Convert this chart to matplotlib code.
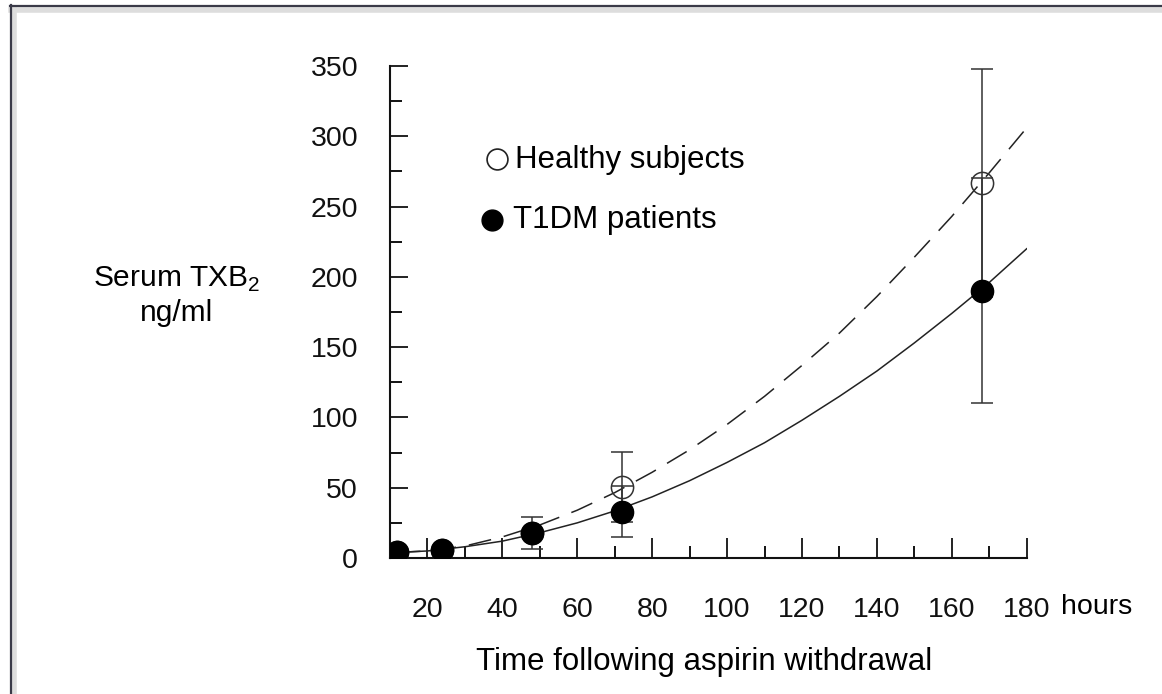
import matplotlib.pyplot as plt
from matplotlib.lines import Line2D
from matplotlib.ticker import MultipleLocator

plt.rcParams['font.family'] = ['Liberation Sans', 'DejaVu Sans']
plt.rcParams['mathtext.fontset'] = 'custom'
plt.rcParams['mathtext.rm'] = 'Liberation Sans'

# measured points (hours after aspirin withdrawal)
hours = [12, 24, 48, 72, 168]
healthy = [4, 6, 18, 50.7, 267]
healthy_err = [0, 0, 0, 24.8, 81]
t1dm = [4, 5.7, 18, 33, 190]
t1dm_err = [0, 0, 11.5, 18, 80]

# fitted curves
fit_hours = [12, 20, 30, 40, 50, 60, 70, 80, 90, 100, 110, 120, 130, 140, 150, 160, 170, 180]
healthy_fit = [4, 5, 8.5, 15, 23.5, 34, 46.5, 61, 77, 95, 115, 137, 160, 186, 214, 243, 274, 306]
t1dm_fit = [4, 5, 8, 12, 18, 25, 33.5, 43.5, 55, 68, 82, 98, 115, 133, 153, 174, 196, 220]

x_labels = ['20', '40', '60', '80', '100', '120', '140', '160', '180']

W, H = 1162, 694
fig = plt.figure(figsize=(W / 100, H / 100), dpi=100)
ax = fig.add_axes([390 / W, 1 - 558 / H, (1026.7 - 390) / W, (558 - 66) / H])

ax.plot(fit_hours, healthy_fit, color='#222222', lw=1.1, linestyle=(0, (15, 8.5)), zorder=2)
ax.plot(fit_hours, t1dm_fit, color='#222222', lw=1.1, zorder=2,
        solid_joinstyle='round')

for series, err in [(healthy, healthy_err), (t1dm, t1dm_err)]:
    idx = [i for i, e in enumerate(err) if e > 0]
    ax.errorbar([hours[i] for i in idx], [series[i] for i in idx],
                yerr=[err[i] for i in idx], fmt='none', ecolor='#333333',
                elinewidth=1.1, capsize=8, capthick=1.1, zorder=3)

ax.plot(hours, healthy, 'o', ms=16, mfc='none', mec='#333333', mew=1.1, zorder=4)
ax.plot(hours, t1dm, 'o', ms=16, mfc='black', mec='black', zorder=5)

ax.set_xlim(10, 180)
ax.set_ylim(0, 350)
ax.set_xticks(range(20, 181, 20), x_labels)
ax.set_xticks(range(30, 180, 20), minor=True)
ax.yaxis.set_major_locator(MultipleLocator(50))
ax.set_yticks(range(25, 350, 50), minor=True)

for s in ['top', 'right']:
    ax.spines[s].set_visible(False)
for s in ['left', 'bottom']:
    ax.spines[s].set_linewidth(1.5)
    ax.spines[s].set_color('#111111')

ax.tick_params(axis='x', which='major', direction='in', length=14.4, width=1.3,
               pad=28, labelsize=20.5, colors='#111111')
ax.tick_params(axis='x', which='minor', direction='in', length=8.6, width=1.3)
ax.tick_params(axis='y', which='major', direction='in', length=13, width=1.3,
               pad=23, labelsize=20.5, colors='#111111')
ax.tick_params(axis='y', which='minor', direction='in', length=8.6, width=1.3)

fig.text(1061 / W, 1 - 607 / H, 'hours', fontsize=20.5, va='center', ha='left')
fig.text(704 / W, 1 - 662 / H, 'Time following aspirin withdrawal', fontsize=22.5,
         va='center', ha='center')
fig.text(177 / W, 1 - 279 / H, r'Serum TXB$_{\mathrm{2}}$', fontsize=21.5,
         va='center', ha='center')
fig.text(177 / W, 1 - 313 / H, 'ng/ml', fontsize=21.5, va='center', ha='center')

# legend
fig.add_artist(Line2D([497 / W], [1 - 159 / H], marker='o', ms=15, mfc='none',
                      mec='#222222', mew=1.2, transform=fig.transFigure))
fig.text(515 / W, 1 - 160 / H, 'Healthy subjects', fontsize=22.5, va='center', ha='left')
fig.add_artist(Line2D([492 / W], [1 - 220 / H], marker='o', ms=15, mfc='black',
                      mec='black', transform=fig.transFigure))
fig.text(513 / W, 1 - 220 / H, 'T1DM patients', fontsize=22.5, va='center', ha='left')

# page frame
fig.add_artist(Line2D([13.5 / W, 13.5 / W], [0, 1 - 8 / H], color='#dddddd', lw=4,
                      transform=fig.transFigure))
fig.add_artist(Line2D([11 / W, 1], [1 - 9.5 / H, 1 - 9.5 / H], color='#dddddd', lw=4,
                      transform=fig.transFigure))
fig.add_artist(Line2D([10.5 / W, 10.5 / W], [0, 1 - 5 / H], color='#3a3a48', lw=1.6,
                      transform=fig.transFigure))
fig.add_artist(Line2D([10 / W, 1], [1 - 6 / H, 1 - 6 / H], color='#3a3a48', lw=1.6,
                      transform=fig.transFigure))

fig.savefig('out.png', dpi=100)
